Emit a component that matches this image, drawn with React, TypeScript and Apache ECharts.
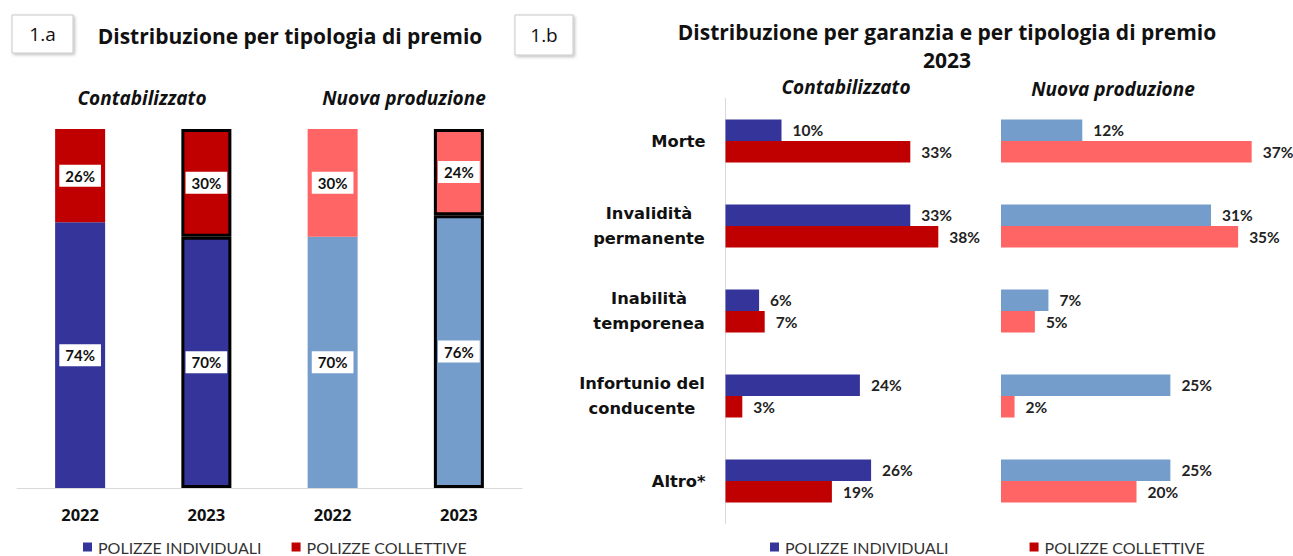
import React, { useEffect, useRef } from "react";
import * as echarts from "echarts";

const yearsA = ["2022", "2023", "2022", "2023"];
const indivA = [74, 70, 70, 76];
const collA = [26, 30, 30, 24];

const garanzie = ["Morte", "Invalidità\npermanente", "Inabilità\ntemporenea", "Infortunio del\nconducente", "Altro*"];
const contIndiv = [10, 33, 6, 24, 26];
const contColl = [33, 38, 7, 3, 19];
const nuovaIndiv = [12, 31, 7, 25, 25];
const nuovaColl = [37, 35, 5, 2, 20];

const DARK_BLUE = "#35349A";
const DARK_RED = "#C00000";
const LIGHT_BLUE = "#759DCB";
const LIGHT_RED = "#FF6565";

const S_IND = "POLIZZE INDIVIDUALI";
const S_COL = "POLIZZE COLLETTIVE";

const FONT = "Lato, 'Open Sans', sans-serif";
const TFONT = "'Open Sans', Lato, sans-serif";
const CATFONT = "'DejaVu Sans', sans-serif";
const CAT_SIZE = 16.3;

export default function App() {
  const ref = useRef<HTMLDivElement>(null);
  useEffect(() => {
    const chart = echarts.init(ref.current!, null, { renderer: "svg" });

    // measure multi-line category labels so lines are centered in a right-aligned block
    const cv = document.createElement("canvas").getContext("2d")!;
    cv.font = `bold ${CAT_SIZE}px ${CATFONT}`;
    const richCat: any = {};
    garanzie.forEach((g, i) => {
      const w = Math.max(...g.split("\n").map((l) => cv.measureText(l).width));
      richCat["c" + i] = {
        width: Math.ceil(w) + 1,
        align: "center",
        color: "#111",
        fontFamily: CATFONT,
        fontWeight: "bold",
        fontSize: CAT_SIZE,
        lineHeight: 25,
      };
    });

    const boxLabel = {
      show: true,
      position: "inside",
      formatter: "{c}%",
      backgroundColor: "#fff",
      padding: [4, 6, 3, 6],
      color: "#111",
      fontFamily: FONT,
      fontWeight: "bold",
      fontSize: 15,
    };
    const mkItems = (vals: number[], dark: string, light: string) =>
      vals.map((v, i) => ({
        value: v,
        itemStyle: {
          color: i >= 2 ? light : dark,
          borderColor: i % 2 === 1 ? "#000" : "transparent",
          borderWidth: i % 2 === 1 ? 3 : 0,
        },
      }));

    const barLabel = {
      show: true,
      position: "right",
      distance: 11,
      formatter: "{c}%",
      color: "#222",
      fontFamily: FONT,
      fontWeight: "bold",
      fontSize: 15.5,
    };

    const txt = (x: number, y: number, text: string, size: number, weight: string, style: string = "normal") => ({
      type: "text",
      x,
      y,
      style: {
        text,
        fill: "#111",
        font: `${style} ${weight} ${size}px ${TFONT}`,
        textAlign: "center",
        textVerticalAlign: "middle",
      },
    });
    const box = (x: number, y: number, w: number, h: number, label: string) => ({
      type: "group",
      children: [
        {
          type: "rect",
          shape: { x, y, width: w, height: h },
          style: {
            fill: "#fff",
            stroke: "#c8c8c8",
            lineWidth: 1,
            shadowBlur: 3,
            shadowOffsetX: 1.5,
            shadowOffsetY: 1.5,
            shadowColor: "rgba(0,0,0,0.25)",
          },
        },
        {
          type: "text",
          x: x + w / 2,
          y: y + h / 2,
          style: {
            text: label,
            fill: "#111",
            font: `normal 19px ${TFONT}`,
            textAlign: "center",
            textVerticalAlign: "middle",
          },
        },
      ],
    });

    const legendBase = {
      top: 539,
      padding: 0,
      icon: "rect",
      itemWidth: 9,
      itemHeight: 9,
      data: [S_IND, S_COL],
      textStyle: { color: "#333", fontFamily: FONT, fontSize: 16, padding: [0, 0, 0, 1] },
    };

    const option: any = {
      animation: false,
      backgroundColor: "#fff",
      grid: [
        { left: 17, top: 129, width: 505, height: 359 },
        { left: 725.5, top: 98.5, width: 252, height: 425 },
        { left: 1001, top: 98.5, width: 271, height: 425 },
      ],
      xAxis: [
        {
          gridIndex: 0,
          type: "category",
          data: yearsA,
          axisLine: { lineStyle: { color: "#d9d9d9", width: 1 } },
          axisTick: { show: false },
          axisLabel: { color: "#111", fontFamily: TFONT, fontWeight: "bold", fontSize: 16.5, margin: 18 },
        },
        { gridIndex: 1, type: "value", min: 0, max: 45, show: false },
        { gridIndex: 2, type: "value", min: 0, max: 40, show: false },
      ],
      yAxis: [
        { gridIndex: 0, type: "value", min: 0, max: 100, show: false },
        {
          gridIndex: 1,
          type: "category",
          data: garanzie,
          inverse: true,
          axisLine: { lineStyle: { color: "#d9d9d9", width: 1 } },
          axisTick: { show: false },
          axisLabel: {
            margin: 20,
            color: "#111",
            fontFamily: CATFONT,
            fontWeight: "bold",
            fontSize: CAT_SIZE,
            lineHeight: 25,
            formatter: (v: string, i: number) =>
              v.includes("\n")
                ? v
                    .split("\n")
                    .map((l) => `{c${i}|${l}}`)
                    .join("\n")
                : v,
            rich: richCat,
          },
        },
        {
          gridIndex: 2,
          type: "category",
          data: garanzie,
          inverse: true,
          axisLine: { show: false },
          axisTick: { show: false },
          axisLabel: { show: false },
        },
      ],
      legend: [
        { ...legendBase, left: 83, itemGap: 30 },
        { ...legendBase, left: 770, itemGap: 81 },
      ],
      series: [
        {
          name: S_IND,
          type: "bar",
          xAxisIndex: 0,
          yAxisIndex: 0,
          stack: "a",
          barWidth: 50,
          itemStyle: { color: DARK_BLUE },
          label: boxLabel,
          data: mkItems(indivA, DARK_BLUE, LIGHT_BLUE),
        },
        {
          name: S_COL,
          type: "bar",
          xAxisIndex: 0,
          yAxisIndex: 0,
          stack: "a",
          barWidth: 50,
          itemStyle: { color: DARK_RED },
          label: boxLabel,
          data: mkItems(collA, DARK_RED, LIGHT_RED),
        },
        {
          name: S_IND,
          type: "bar",
          xAxisIndex: 1,
          yAxisIndex: 1,
          barWidth: 21.5,
          barGap: "0%",
          itemStyle: { color: DARK_BLUE },
          label: barLabel,
          data: contIndiv,
        },
        {
          name: S_COL,
          type: "bar",
          xAxisIndex: 1,
          yAxisIndex: 1,
          barWidth: 21.5,
          barGap: "0%",
          itemStyle: { color: DARK_RED },
          label: barLabel,
          data: contColl,
        },
        {
          name: S_IND,
          type: "bar",
          xAxisIndex: 2,
          yAxisIndex: 2,
          barWidth: 21.5,
          barGap: "0%",
          itemStyle: { color: LIGHT_BLUE },
          label: barLabel,
          data: nuovaIndiv,
        },
        {
          name: S_COL,
          type: "bar",
          xAxisIndex: 2,
          yAxisIndex: 2,
          barWidth: 21.5,
          barGap: "0%",
          itemStyle: { color: LIGHT_RED },
          label: barLabel,
          data: nuovaColl,
        },
      ],
      graphic: [
        box(12, 15, 61, 38, "1.a"),
        box(515, 15, 58, 40, "1.b"),
        txt(290, 36, "Distribuzione per tipologia di premio", 21, "bold"),
        txt(142, 98, "Contabilizzato", 19, "bold", "italic"),
        txt(404, 98, "Nuova produzione", 19, "bold", "italic"),
        txt(947, 32, "Distribuzione per garanzia e per tipologia di premio", 21, "bold"),
        txt(947, 60, "2023", 21, "bold"),
        txt(846, 87, "Contabilizzato", 19, "bold", "italic"),
        txt(1113, 89, "Nuova produzione", 19, "bold", "italic"),
      ],
    };
    chart.setOption(option);
    return () => chart.dispose();
  }, []);
  return (
    <div
      ref={ref}
      style={{ position: "fixed", left: 0, top: 0, width: 1293, height: 556, background: "#fff" }}
    />
  );
}
